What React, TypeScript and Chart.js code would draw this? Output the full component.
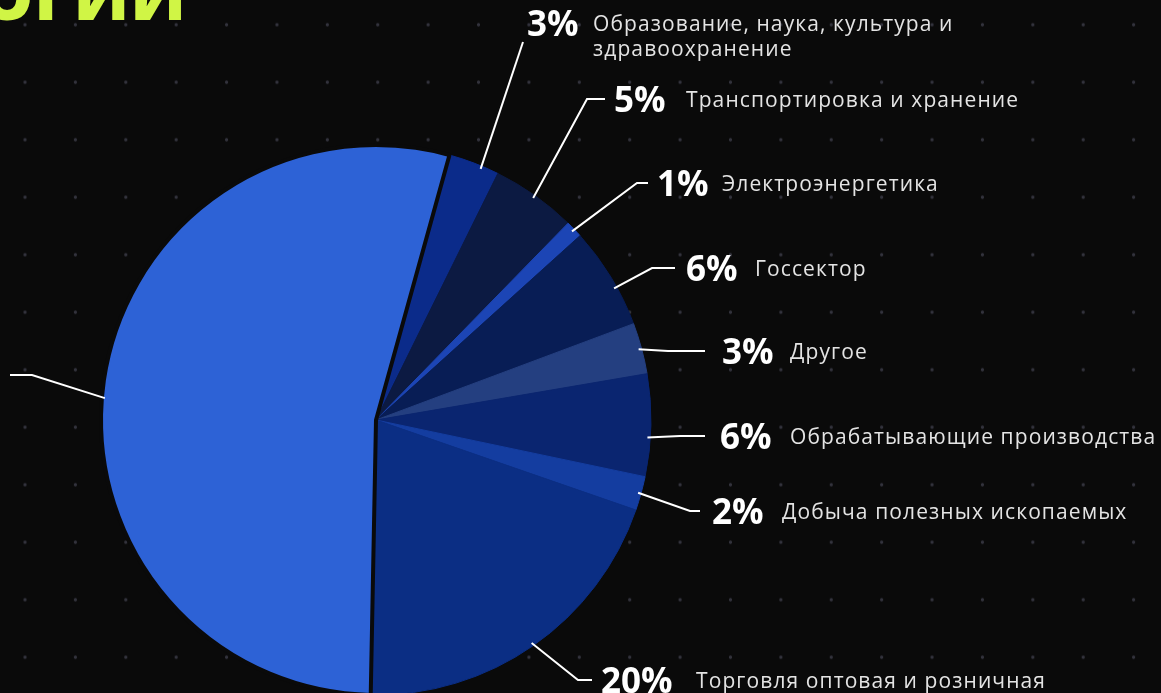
import React, { useEffect, useRef } from "react";
import { Chart, registerables } from "chart.js";

Chart.register(...registerables);

// ---- data ----
const categories = [
  "Образование, наука, культура и\nздравоохранение",
  "Транспортировка и хранение",
  "Электроэнергетика",
  "Госсектор",
  "Другое",
  "Обрабатывающие производства",
  "Добыча полезных ископаемых",
  "Торговля оптовая и розничная",
  "Информация и связь",
];
const shares = [3, 5, 1, 6, 3, 6, 2, 20, 54];
const sliceColors = [
  "#0b2b8a",
  "#0c1a42",
  "#1c45b5",
  "#081d55",
  "#243f80",
  "#0a2570",
  "#143da0",
  "#0b2e84",
  "#2d62d6",
];
const titleText = "ТЕХНОЛОГИИ";

// ---- callout layout (relative to pie centre, px); sa = where along the slice the leader starts ----
const calloutLayout: Array<{ sa: number; ex: number; ey: number; hx: number; tx: number | null; lx: number; ty: number }> = [
  { sa: 0.66, ex: 147, ey: -378, hx: 147, tx: 151, lx: 217, ty: -397 },
  { sa: 0.5, ex: 211, ey: -321, hx: 229, tx: 238, lx: 310, ty: -321 },
  { sa: 0.5, ex: 261, ey: -237, hx: 272, tx: 281, lx: 346, ty: -237 },
  { sa: 0.61, ex: 276, ey: -152, hx: 299, tx: 310, lx: 379, ty: -152 },
  { sa: 0.5, ex: 292, ey: -69, hx: 329, tx: 346, lx: 414, ty: -69 },
  { sa: 0.62, ex: 304, ey: 16, hx: 329, tx: 344, lx: 414, ty: 16 },
  { sa: 0.5, ex: 314, ey: 91, hx: 324, tx: 336, lx: 406, ty: 91 },
  { sa: 0.5, ex: 202, ey: 260, hx: 216, tx: 225, lx: 320, ty: 260 },
  { sa: 0.481, ex: -344, ey: -45, hx: -366, tx: null, lx: 0, ty: -45 },
];

const calloutPlugin = {
  id: "callouts",
  afterDatasetsDraw(chart: any) {
    const meta = chart.getDatasetMeta(0);
    const ctx = chart.ctx as CanvasRenderingContext2D;
    meta.data.forEach((arc: any, i: number) => {
      const p = arc.getProps(["x", "y", "startAngle", "endAngle", "outerRadius"], true);
      const L = calloutLayout[i];
      const a = p.startAngle + (p.endAngle - p.startAngle) * L.sa;
      const r = p.outerRadius - 3;
      const sx = p.x + Math.cos(a) * r;
      const sy = p.y + Math.sin(a) * r;
      ctx.save();
      ctx.strokeStyle = "#ffffff";
      ctx.lineWidth = 2;
      ctx.lineJoin = "miter";
      ctx.beginPath();
      ctx.moveTo(sx, sy);
      ctx.lineTo(p.x + L.ex, p.y + L.ey);
      ctx.lineTo(p.x + L.hx, p.y + L.ey);
      ctx.stroke();
      if (L.tx !== null) {
        const pct = shares[i] + "%";
        const py = p.y + L.ty;
        ctx.font = '700 35px "Open Sans"';
        ctx.fillStyle = "#ffffff";
        ctx.textBaseline = "alphabetic";
        ctx.textAlign = "left";
        ctx.fillText(pct, p.x + L.tx, py + 12.5);
        ctx.font = '400 21px "Open Sans"';
        (ctx as any).letterSpacing = "1.1px";
        ctx.fillStyle = "#e4e4e4";
        categories[i].split("\n").forEach((ln, k) => {
          ctx.fillText(ln, p.x + L.lx, py + 7.5 + k * 25);
        });
      }
      ctx.restore();
    });
  },
};

const titlePlugin = {
  id: "cutTitle",
  afterDraw(chart: any) {
    const ctx = chart.ctx as CanvasRenderingContext2D;
    ctx.save();
    ctx.font = '800 66px "Open Sans"';
    (ctx as any).letterSpacing = "1px";
    ctx.fillStyle = "#d0f545";
    ctx.textAlign = "right";
    ctx.textBaseline = "alphabetic";
    ctx.fillText(titleText, 187, 20);
    ctx.restore();
  },
};

export default function App() {
  const ref = useRef<HTMLCanvasElement | null>(null);
  useEffect(() => {
    if (!ref.current) return;
    const chart = new Chart(ref.current, {
      type: "pie",
      data: {
        labels: categories,
        datasets: [
          {
            data: shares,
            backgroundColor: sliceColors,
            borderColor: sliceColors.map((c, i) => (i === sliceColors.length - 1 ? "#0a0a0a" : c)),
            borderWidth: shares.map((_, i) => (i === shares.length - 1 ? 4 : 1)),
          },
        ],
      },
      options: {
        responsive: false,
        animation: false,
        rotation: 15.5,
        radius: 275,
        layout: { padding: { left: 76, right: 485, top: 120, bottom: 20 } },
        plugins: {
          legend: { display: false },
          tooltip: { enabled: false },
          title: { display: false },
        },
      },
      plugins: [calloutPlugin, titlePlugin],
    });
    return () => chart.destroy();
  }, []);

  return (
    <div
      style={{
        position: "fixed",
        left: 0,
        top: 0,
        width: 1161,
        height: 693,
        overflow: "hidden",
        backgroundColor: "#0a0a0a",
        backgroundImage: "radial-gradient(circle at center, #33333d 0, #33333d 1.3px, rgba(10,10,10,0) 2px)",
        backgroundSize: "50.4px 57.5px",
        backgroundPosition: "-0.2px -4px",
      }}
    >
      <canvas ref={ref} width={1161} height={740} style={{ display: "block" }} />
    </div>
  );
}
